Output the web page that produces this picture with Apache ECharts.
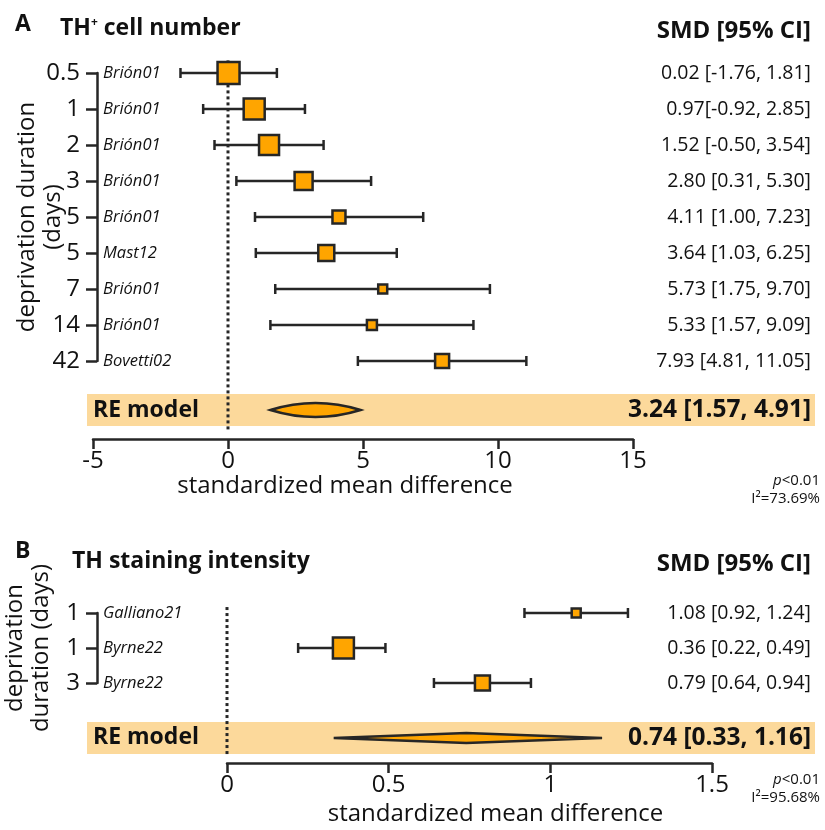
<!DOCTYPE html>
<html>
<head>
<meta charset="utf-8">
<script src="https://cdn.jsdelivr.net/npm/echarts@6/dist/echarts.min.js"></script>
<style>html,body{margin:0;padding:0;background:#fff}#main{width:825px;height:830px}</style>
</head>
<body>
<div id="main"></div>
<script>
// A: TH+ cell number
var daysA = ['0.5', '1', '2', '3', '5', '5', '7', '14', '42'];
var studiesA = ['Brión01', 'Brión01', 'Brión01', 'Brión01', 'Brión01', 'Mast12', 'Brión01', 'Brión01', 'Bovetti02'];
var smdA = [0.02, 0.97, 1.52, 2.80, 4.11, 3.64, 5.73, 5.33, 7.93];
var loA = [-1.76, -0.92, -0.50, 0.31, 1.00, 1.03, 1.75, 1.57, 4.81];
var hiA = [1.81, 2.85, 3.54, 5.30, 7.23, 6.25, 9.70, 9.09, 11.05];
var boxA = [22, 21, 20, 18, 13, 16, 9, 10, 14];
var ciA = ['0.02 [-1.76, 1.81]', '0.97[-0.92, 2.85]', '1.52 [-0.50, 3.54]', '2.80 [0.31, 5.30]',
  '4.11 [1.00, 7.23]', '3.64 [1.03, 6.25]', '5.73 [1.75, 9.70]', '5.33 [1.57, 9.09]', '7.93 [4.81, 11.05]'];
var reA = [3.24, 1.57, 4.91];
var reTextA = '3.24 [1.57, 4.91]';
var statA = ['p<0.01', 'I²=73.69%'];

// B: TH staining intensity
var daysB = ['1', '1', '3'];
var studiesB = ['Galliano21', 'Byrne22', 'Byrne22'];
var smdB = [1.08, 0.36, 0.79];
var loB = [0.92, 0.22, 0.64];
var hiB = [1.24, 0.49, 0.94];
var boxB = [9, 21, 15];
var ciB = ['1.08 [0.92, 1.24]', '0.36 [0.22, 0.49]', '0.79 [0.64, 0.94]'];
var reB = [0.74, 0.33, 1.16];
var reTextB = '0.74 [0.33, 1.16]';
var statB = ['p<0.01', 'I²=95.68%'];

var ink = '#262626';
var txt = '#111';
var orange = '#FFA500';
var bandCol = '#FCD99B';
var FONT = '"Open Sans", sans-serif';
var bandLeft = 87, bandRight = 815, ciRight = 811;

var myChart = echarts.init(document.getElementById('main'));

function whiskerItem(params, api) {
  var a = api.coord([api.value(0), api.value(2)]);
  var b = api.coord([api.value(1), api.value(2)]);
  var c = 5;
  var ls = {stroke: ink, lineWidth: 2.5};
  return {type: 'group', children: [
    {type: 'line', shape: {x1: a[0], y1: a[1], x2: b[0], y2: b[1]}, style: ls},
    {type: 'line', shape: {x1: a[0], y1: a[1] - c, x2: a[0], y2: a[1] + c}, style: ls},
    {type: 'line', shape: {x1: b[0], y1: b[1] - c, x2: b[0], y2: b[1] + c}, style: ls}
  ]};
}

function ciItem(texts) {
  return function (params, api) {
    var pt = api.coord([0, api.value(1)]);
    return {type: 'text', x: ciRight, y: pt[1], style: {text: texts[params.dataIndex], align: 'right',
      verticalAlign: 'middle', font: '19.5px ' + FONT, fill: txt}};
  };
}

function summaryItem(p) {
  return function (params, api) {
    var est = api.value(0), lo = api.value(1), hi = api.value(2);
    var c = api.coord([est, p.reRow]);
    var l = api.coord([lo, p.reRow]);
    var r = api.coord([hi, p.reRow]);
    var z0 = api.coord([0, p.zeroTop]);
    var z1 = api.coord([0, p.zeroBottom]);
    var y = c[1];
    var diamond;
    if (p.lens) {
      diamond = {type: 'path', shape: {pathData: 'M' + l[0] + ' ' + y + ' Q' + c[0] + ' ' + (y - 2 * p.dh) + ' ' + r[0] + ' ' + y +
        ' Q' + c[0] + ' ' + (y + 2 * p.dh) + ' ' + l[0] + ' ' + y + ' Z'},
        style: {fill: orange, stroke: ink, lineWidth: 2.5}};
    } else {
      diamond = {type: 'polygon', shape: {points: [[l[0], y], [c[0], y - p.dh], [r[0], y], [c[0], y + p.dh]]},
        style: {fill: orange, stroke: ink, lineWidth: 2.5}};
    }
    return {type: 'group', children: [
      {type: 'rect', shape: {x: bandLeft, y: y - 16, width: bandRight - bandLeft, height: 32}, style: {fill: bandCol}},
      {type: 'text', x: bandLeft + 6, y: y, style: {text: 'RE model', font: 'bold 23px ' + FONT, fill: txt,
        verticalAlign: 'middle'}},
      {type: 'text', x: ciRight, y: y, style: {text: p.reText, font: 'bold 24.5px ' + FONT, fill: txt,
        align: 'right', verticalAlign: 'middle'}},
      {type: 'line', shape: {x1: z0[0], y1: z0[1], x2: z1[0], y2: z1[1]},
        style: {stroke: ink, lineWidth: 3, lineDash: [3, 3]}},
      diamond
    ]};
  };
}

function rows(arr) { return arr.map(function (v, i) { return i; }); }

function buildPanel(k, d) {
  var n = d.smd.length;
  var xAxis = {
    gridIndex: k, type: 'value', min: d.xmin, max: d.xmax, interval: d.xint, position: 'bottom', offset: d.xOff,
    axisLine: {show: true, onZero: false, lineStyle: {color: ink, width: 2.5}},
    axisTick: {show: true, length: 10, lineStyle: {color: ink, width: 2.5}},
    splitLine: {show: false},
    axisLabel: {fontSize: 24, color: txt, margin: 10, fontFamily: FONT},
    name: 'standardized mean difference', nameLocation: 'middle', nameGap: d.nameGap,
    nameMoveOverlap: false,
    nameTextStyle: {fontSize: 24, color: txt, fontFamily: FONT, padding: d.namePad}
  };
  var yAxes = [{
    gridIndex: k, type: 'value', position: 'left', min: 0, max: n - 1, interval: 1, inverse: true, offset: d.yOff,
    axisLine: {show: true, onZero: false, lineStyle: {color: ink, width: 2.5}},
    axisTick: {show: true, length: 11, lineStyle: {color: ink, width: 2.5}},
    splitLine: {show: false},
    axisLabel: {fontSize: 24, color: txt, margin: 17, fontFamily: FONT,
      formatter: function (v) { return d.days[v]; }},
    name: d.yName, nameLocation: 'middle', nameRotate: 90, nameGap: d.yNameGap,
    nameMoveOverlap: false,
    nameTextStyle: {fontSize: 24, color: txt, fontFamily: FONT, lineHeight: 26}
  }, {
    gridIndex: k, type: 'value', position: 'left', min: 0, max: n - 1, interval: 1, inverse: true, offset: d.yOff,
    axisLine: {show: false, onZero: false}, axisTick: {show: false}, splitLine: {show: false},
    axisLabel: {inside: true, margin: 6, fontSize: 16.5, fontStyle: 'italic', color: txt, fontFamily: FONT,
      formatter: function (v) { return d.studies[v]; }}
  }];
  var idx = rows(d.smd);
  var series = [{
    type: 'custom', xAxisIndex: k, yAxisIndex: 2 * k, z: 1, silent: true,
    renderItem: summaryItem(d),
    data: [d.re]
  }, {
    type: 'custom', xAxisIndex: k, yAxisIndex: 2 * k, z: 2, silent: true,
    renderItem: whiskerItem,
    encode: {x: [0, 1], y: 2},
    data: idx.map(function (i) { return [d.lo[i], d.hi[i], i]; })
  }, {
    type: 'scatter', xAxisIndex: k, yAxisIndex: 2 * k, z: 3, silent: true, clip: false,
    symbol: 'rect',
    symbolSize: function (v) { return v[2]; },
    itemStyle: {color: orange, borderColor: ink, borderWidth: 2.5, opacity: 1},
    data: idx.map(function (i) { return [d.smd[i], i, d.box[i]]; })
  }, {
    type: 'custom', xAxisIndex: k, yAxisIndex: 2 * k, z: 2, silent: true,
    renderItem: ciItem(d.ci),
    data: idx.map(function (i) { return [0, i]; })
  }];
  return {xAxis: xAxis, yAxes: yAxes, series: series};
}

var pA = buildPanel(0, {
  days: daysA, studies: studiesA, smd: smdA, lo: loA, hi: hiA, box: boxA, ci: ciA, re: reA, reText: reTextA,
  xmin: -5, xmax: 15, xint: 5, xOff: 78, nameGap: 35, namePad: [0, 36, 0, 0],
  yOff: -4, yName: 'deprivation duration\n(days)', yNameGap: 31,
  reRow: 9.36, zeroTop: -0.35, zeroBottom: 9.95, dh: 7, lens: true
});
var pB = buildPanel(1, {
  days: daysB, studies: studiesB, smd: smdB, lo: loB, hi: hiB, box: boxB, ci: ciB, re: reB, reText: reTextB,
  xmin: 0, xmax: 1.5, xint: 0.5, xOff: 80, nameGap: 39, namePad: [0, 0, 0, 52],
  yOff: 130, yName: 'deprivation\nduration (days)', yNameGap: 43,
  reRow: 3.57, zeroTop: -0.17, zeroBottom: 4.1, dh: 5, lens: false
});

function statText(x, y, lines) {
  return {type: 'text', x: x, y: y, style: {
    text: '{i|p}{n|' + lines[0].slice(1) + '}\n{n|' + lines[1] + '}',
    align: 'right', verticalAlign: 'top', fill: txt,
    rich: {i: {fontStyle: 'italic', fontSize: 15, fontFamily: FONT, fill: txt, lineHeight: 18},
           n: {fontSize: 15, fontFamily: FONT, fill: txt, lineHeight: 18}}
  }};
}

var option = {
  backgroundColor: '#fff',
  animation: false,
  grid: [
    {left: 93, top: 73, width: 540, height: 288, outerBoundsMode: 'none', containLabel: false},
    {left: 227, top: 613, width: 485, height: 70, outerBoundsMode: 'none', containLabel: false}
  ],
  xAxis: [pA.xAxis, pB.xAxis],
  yAxis: pA.yAxes.concat(pB.yAxes),
  series: pA.series.concat(pB.series),
  graphic: [
    {type: 'text', x: 15, y: 24, style: {text: 'A', font: 'bold 23px ' + FONT, fill: txt, verticalAlign: 'middle'}},
    {type: 'text', x: 60, y: 28, style: {text: '{b|TH}{s|+}{b| cell number}', verticalAlign: 'middle',
      rich: {b: {fontWeight: 'bold', fontSize: 23, fontFamily: FONT, fill: txt},
             s: {fontWeight: 'bold', fontSize: 12, fontFamily: FONT, fill: txt, verticalAlign: 'top', padding: [0, 0, 10, 0]}}}},
    {type: 'text', x: ciRight, y: 31, style: {text: 'SMD [95% CI]', font: 'bold 24px ' + FONT, fill: txt,
      align: 'right', verticalAlign: 'middle'}},
    {type: 'text', x: 15, y: 551, style: {text: 'B', font: 'bold 23px ' + FONT, fill: txt, verticalAlign: 'middle'}},
    {type: 'text', x: 72, y: 561, style: {text: 'TH staining intensity', font: 'bold 23px ' + FONT, fill: txt,
      verticalAlign: 'middle'}},
    {type: 'text', x: ciRight, y: 564, style: {text: 'SMD [95% CI]', font: 'bold 24px ' + FONT, fill: txt,
      align: 'right', verticalAlign: 'middle'}},
    statText(820, 472, statA),
    statText(820, 771, statB)
  ]
};
myChart.setOption(option);
</script>
</body>
</html>
